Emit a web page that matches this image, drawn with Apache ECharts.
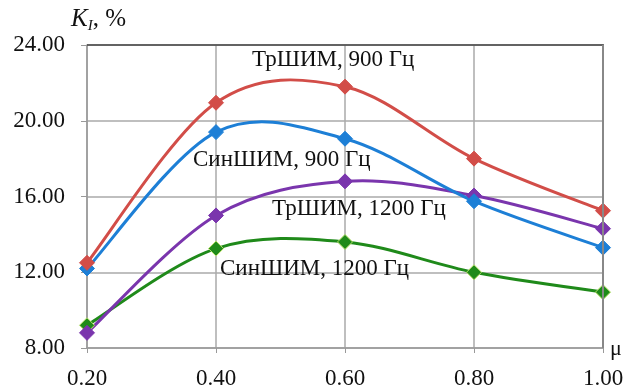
<!DOCTYPE html>
<html><head><meta charset="utf-8">
<script src="https://cdn.jsdelivr.net/npm/echarts@6/dist/echarts.min.js"></script>
<style>html,body{margin:0;padding:0;background:#fff}#c{width:626px;height:387px}</style>
</head><body><div id="c"></div>
<script>
const mu = [0.2, 0.4, 0.6, 0.8, 1.0];
const trShim900 = [12.5, 20.95, 21.8, 18.0, 15.25];
const sinShim900 = [12.2, 19.4, 19.05, 15.75, 13.3];
const trShim1200 = [8.8, 15.0, 16.8, 16.05, 14.3];
const sinShim1200 = [9.2, 13.25, 13.6, 12.0, 10.95];
const seriesNames = ['ТрШИМ, 900 Гц', 'СинШИМ, 900 Гц', 'ТрШИМ, 1200 Гц', 'СинШИМ, 1200 Гц'];
const seriesData = [trShim900, sinShim900, trShim1200, sinShim1200];
const colors = ['#d24d48', '#1d7fd6', '#7a35ad', '#1f8a1a'];
const borders = ['#d24d48', '#1d7fd6', '#7a35ad', '#b8e06a'];
const labelPos = [[252, 61], [193, 161], [272, 210], [220, 270]];

const chart = echarts.init(document.getElementById('c'));
const serif = '"Liberation Serif", "DejaVu Serif", serif';

function smoothCurve(d, color) {
  return (params, api) => {
    const p = d.map((v, j) => api.coord([mu[j], v]));
    const n = p.length;
    const children = [];
    for (let i = 0; i < n - 1; i++) {
      const p0 = p[Math.max(i - 1, 0)], p1 = p[i], p2 = p[i + 1], p3 = p[Math.min(i + 2, n - 1)];
      children.push({
        type: 'bezierCurve',
        shape: {
          x1: p1[0], y1: p1[1], x2: p2[0], y2: p2[1],
          cpx1: p1[0] + (p2[0] - p0[0]) / 6, cpy1: p1[1] + (p2[1] - p0[1]) / 6,
          cpx2: p2[0] - (p3[0] - p1[0]) / 6, cpy2: p2[1] - (p3[1] - p1[1]) / 6
        },
        style: { stroke: color, lineWidth: 3, fill: null }
      });
    }
    return { type: 'group', children };
  };
}

const curveSeries = seriesData.map((d, i) => ({
  type: 'custom', name: seriesNames[i] + ' curve',
  data: [[mu[0], d[0]]],
  renderItem: smoothCurve(d, colors[i]),
  z: 5 - i, silent: true
}));
const markerSeries = seriesData.map((d, i) => ({
  name: seriesNames[i], type: 'line',
  data: d.map((v, j) => [mu[j], v]),
  symbol: 'diamond', symbolSize: 15,
  lineStyle: { width: 0, opacity: 0 },
  itemStyle: { color: colors[i], borderColor: borders[i], borderWidth: 1 },
  z: 10 - i
}));

chart.setOption({
  animation: false,
  grid: { left: 87, right: 23, top: 45, bottom: 39, containLabel: false, outerBoundsMode: 'none' },
  xAxis: {
    type: 'value', min: 0.2, max: 1.0, interval: 0.2,
    axisLine: { lineStyle: { color: '#999', width: 1.5 } },
    axisTick: { show: true, length: 5, lineStyle: { color: '#999' } },
    axisLabel: { formatter: v => v.toFixed(2), fontFamily: serif, fontSize: 23, color: '#111', margin: 19 },
    splitLine: { show: true, lineStyle: { color: '#aaa', width: 1.5 } }
  },
  yAxis: {
    type: 'value', min: 8, max: 24, interval: 4,
    axisLine: { show: true, lineStyle: { color: '#999', width: 1.5 } },
    axisTick: { show: true, length: 6, lineStyle: { color: '#999' } },
    axisLabel: { formatter: v => v.toFixed(2), fontFamily: serif, fontSize: 23, color: '#111', margin: 22 },
    splitLine: { show: true, lineStyle: { color: '#aaa', width: 1.5 } }
  },
  series: [...curveSeries, ...markerSeries],
  graphic: [
    { type: 'line', shape: { x1: 87, y1: 45, x2: 604, y2: 45 }, style: { stroke: '#444', lineWidth: 1.5 }, z: 50 },
    { type: 'line', shape: { x1: 603, y1: 45, x2: 603, y2: 348 }, style: { stroke: '#888', lineWidth: 2 }, z: 50 },
    { type: 'text', left: 71, top: 7, style: { rich: { k: { fontFamily: serif, fontStyle: 'italic', fontSize: 25, fill: '#111' }, s: { fontFamily: serif, fontStyle: 'italic', fontSize: 15, fill: '#111', padding: [14, 0, 0, 0] }, n: { fontFamily: serif, fontSize: 25, fill: '#111' } }, text: '{k|K}{s|I}{n|, %}' } },
    { type: 'text', left: 610, top: 338, style: { text: 'μ', fontFamily: serif, fontSize: 22, fill: '#111' } },
    ...seriesNames.map((n, i) => ({ type: 'text', left: labelPos[i][0], top: labelPos[i][1] - 13, z: 100, style: { text: n, fontFamily: serif, fontSize: 23, fill: '#111' } }))
  ]
});
</script></body></html>
